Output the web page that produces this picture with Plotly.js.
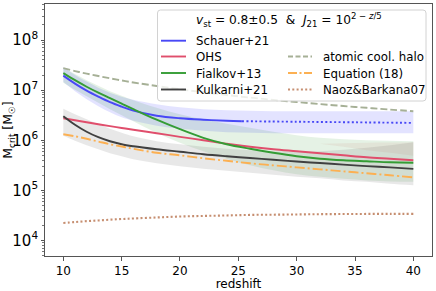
<!DOCTYPE html>
<html>
<head>
<meta charset="utf-8">
<script src="https://cdn.plot.ly/plotly-3.0.1.min.js"></script>
<style>html,body{margin:0;padding:0;background:#fff;}#plot{width:436px;height:291px;}</style>
</head>
<body>
<div id="plot"></div>
<script>
// ---- data ----
const redshift = [10,11,12,13,14,15,16,18,20,22,24,26,28,30,32,34,36,38,40];

const schauerZ = [10,11,12,13,14,15,16,18,20,22,24,25.3];
const schauer = [1.95e7,1.35e7,9.77e6,7.41e6,5.75e6,4.68e6,3.89e6,3.09e6,2.75e6,2.57e6,2.45e6,2.40e6];
const schauerExtZ = [25.3,30,35,40];
const schauerExt = [2.40e6,2.34e6,2.28e6,2.22e6];
const schauerHi = [2.88e7,2.00e7,1.48e7,1.12e7,8.91e6,7.41e6,6.46e6,5.25e6,4.57e6,4.17e6,3.98e6,3.89e6,3.80e6,3.80e6,3.80e6,3.80e6,3.80e6,3.80e6,3.80e6];
const schauerLo = [1.45e7,9.55e6,6.61e6,4.79e6,3.63e6,2.88e6,2.45e6,1.95e6,1.70e6,1.55e6,1.45e6,1.41e6,1.38e6,1.38e6,1.38e6,1.38e6,1.38e6,1.38e6,1.38e6];

const ohs = [2.75e6,2.51e6,2.29e6,2.09e6,1.91e6,1.76e6,1.62e6,1.38e6,1.17e6,1.00e6,8.51e5,7.41e5,6.61e5,6.03e5,5.50e5,5.01e5,4.57e5,4.27e5,3.98e5];
const ohsBandZ = [32,34,36,38,40];
const ohsHi = [8.51e5,8.71e5,8.91e5,9.02e5,9.12e5];
const ohsLo = [8.51e5,7.41e5,6.31e5,5.62e5,4.90e5];

const fialkov = [2.19e7,1.58e7,1.17e7,8.91e6,6.92e6,5.37e6,4.17e6,2.57e6,1.66e6,1.12e6,8.32e5,6.76e5,5.62e5,4.79e5,4.27e5,3.98e5,3.80e5,3.63e5,3.55e5];
const fialkovHi = [2.82e7,2.09e7,1.58e7,1.23e7,9.55e6,7.76e6,6.31e6,4.47e6,3.31e6,2.63e6,2.14e6,1.78e6,1.48e6,1.26e6,1.12e6,1.05e6,1.00e6,9.77e5,9.55e5];
const fialkovLo = [1.41e7,1.02e7,7.59e6,5.62e6,4.17e6,3.16e6,2.40e6,1.41e6,8.91e5,6.03e5,4.27e5,3.16e5,2.51e5,2.09e5,1.86e5,1.70e5,1.58e5,1.51e5,1.48e5];

const kulkarni = [3.02e6,2.04e6,1.48e6,1.15e6,9.55e5,8.32e5,7.59e5,6.61e5,5.89e5,5.25e5,4.79e5,4.42e5,4.07e5,3.76e5,3.51e5,3.27e5,3.05e5,2.88e5,2.69e5];
const kulkarniHi = [4.27e6,3.31e6,2.63e6,2.09e6,1.70e6,1.41e6,1.20e6,9.55e5,8.32e5,7.41e5,6.76e5,6.31e5,6.03e5,5.89e5,6.03e5,6.46e5,7.08e5,7.94e5,9.12e5];
const kulkarniLo = [1.23e6,9.77e5,7.94e5,6.61e5,5.50e5,4.79e5,4.17e5,3.47e5,3.02e5,2.69e5,2.45e5,2.24e5,2.04e5,1.86e5,1.74e5,1.58e5,1.48e5,1.35e5,1.26e5];

const atomicCool = [2.74e7,2.40e7,2.13e7,1.91e7,1.72e7,1.56e7,1.42e7,1.21e7,1.04e7,9.06e6,7.98e6,7.11e6,6.38e6,5.78e6,5.26e6,4.82e6,4.44e6,4.09e6,3.80e6];
const equation18 = [1.32e6,1.20e6,1.07e6,9.44e5,8.32e5,7.50e5,6.76e5,5.62e5,5.01e5,4.37e5,3.89e5,3.47e5,3.16e5,2.88e5,2.63e5,2.40e5,2.19e5,2.00e5,1.82e5];
const naozBarkana = [2.24e4,2.33e4,2.43e4,2.51e4,2.60e4,2.68e4,2.75e4,2.88e4,3.01e4,3.09e4,3.16e4,3.24e4,3.27e4,3.31e4,3.35e4,3.37e4,3.39e4,3.39e4,3.40e4];

const xTicks = [10,15,20,25,30,35,40];
const legendNames = ['Schauer+21','OHS','Fialkov+13','Kulkarni+21','atomic cool. halo','Equation (18)','Naoz&Barkana07'];

// ---- styles ----
const C = {
  blue:'rgb(72,72,246)', red:'rgb(224,78,108)', green:'rgb(52,156,52)', black:'rgb(64,64,64)',
  atomic:'rgb(166,176,150)', orange:'rgb(252,176,82)', brown:'rgb(198,142,112)'
};
const FONT = 'DejaVu Sans, Liberation Sans, sans-serif';
const FS = 12;
const FL = 11.8;

function band(x, lo, hi, fill){
  return [
    {x:x, y:lo, mode:'lines', line:{width:0, shape:'spline'}, hoverinfo:'skip', showlegend:false},
    {x:x, y:hi, mode:'lines', line:{width:0, shape:'spline'}, fill:'tonexty', fillcolor:fill, hoverinfo:'skip', showlegend:false}
  ];
}
function line(x, y, color, dash, w){
  return {x:x, y:y, mode:'lines', line:{color:color, width:w||1.9, dash:dash||'solid', shape:'spline'}, showlegend:false, hoverinfo:'skip'};
}

const traces = [].concat(
  band(redshift, schauerLo, schauerHi, 'rgba(0,0,255,0.11)'),
  band(redshift, fialkovLo, fialkovHi, 'rgba(0,128,0,0.10)'),
  band(redshift, kulkarniLo, kulkarniHi, 'rgba(128,128,128,0.18)'),
  band(ohsBandZ, ohsLo, ohsHi, 'rgba(180,60,40,0.07)'),
  [
    line(schauerZ, schauer, C.blue),
    line(schauerExtZ, schauerExt, C.blue, '2px,2.4px'),
    line(redshift, ohs, C.red),
    line(redshift, fialkov, C.green),
    line(redshift, kulkarni, C.black),
    line(redshift, atomicCool, C.atomic, '7px,3px'),
    line(redshift, equation18, C.orange, '10px,3px,2px,3px'),
    line(redshift, naozBarkana, C.brown, '2px,2.3px', 2.1)
  ]
);

// ---- legend drawn in paper coordinates ----
const PL = 45, PT = 4, PW = 387, PH = 252;
const px = v => (v - PL) / PW;
const py = v => (PT + PH - v) / PH;

const shapes = [];
const annotations = [];
(function(){
  const x0 = px(157.5), x1 = px(426), y0 = py(101), y1 = py(10);
  const rx = 3 / PW, ry = 3 / PH;
  const p = `M ${x0+rx},${y0} L ${x1-rx},${y0} Q ${x1},${y0} ${x1},${y0+ry} L ${x1},${y1-ry} Q ${x1},${y1} ${x1-rx},${y1} L ${x0+rx},${y1} Q ${x0},${y1} ${x0},${y1-ry} L ${x0},${y0+ry} Q ${x0},${y0} ${x0+rx},${y0} Z`;
  shapes.push({type:'path', xref:'paper', yref:'paper', path:p, fillcolor:'rgba(255,255,255,0.8)', line:{color:'rgb(210,210,210)', width:1}, layer:'above'});
})();
const legendItems = [
  {col:0,row:0,color:C.blue,dash:'solid'},
  {col:0,row:1,color:C.red,dash:'solid'},
  {col:0,row:2,color:C.green,dash:'solid'},
  {col:0,row:3,color:C.black,dash:'solid'},
  {col:1,row:1,color:C.atomic,dash:'5px,2.5px'},
  {col:1,row:2,color:C.orange,dash:'9px,2.5px,2px,2.5px'},
  {col:1,row:3,color:C.brown,dash:'2px,2.3px'}
];
const rowY = [40.7, 56.5, 73, 89.5];
const colX = [[161,186,194],[288,312,320.5]];
legendItems.forEach((it,i)=>{
  const cx = colX[it.col], yy = rowY[it.row];
  shapes.push({type:'line', xref:'paper', yref:'paper', x0:px(cx[0]), x1:px(cx[1]), y0:py(yy), y1:py(yy), line:{color:it.color, width:1.9, dash:it.dash}, layer:'above'});
  annotations.push({xref:'paper', yref:'paper', x:px(cx[2]), y:py(yy+0.5), xanchor:'left', yanchor:'middle', showarrow:false, text:legendNames[i], font:{family:FONT, size:FL, color:'#000'}});
});
annotations.push({xref:'paper', yref:'paper', x:px(289), y:py(20), xanchor:'center', yanchor:'middle', showarrow:false,
  text:'<i>v</i><sub>st</sub> = 0.8±0.5  &  <i>J</i><sub>21</sub> = 10<sup>2 − <i>z</i>/5</sup>', font:{family:FONT, size:12.2, color:'#000'}});

const layout = {
  width:436, height:291,
  margin:{l:PL, r:436-PL-PW, t:PT, b:291-PT-PH, pad:0},
  paper_bgcolor:'#fff', plot_bgcolor:'#fff',
  font:{family:FONT, size:FS, color:'#000'},
  showlegend:false,
  xaxis:{
    range:[8.43, 41.6], tickvals:xTicks, ticktext:xTicks.map(String),
    showgrid:false, zeroline:false, showline:true, mirror:true, linecolor:'#555', linewidth:1,
    ticks:'outside', ticklen:3.5, tickwidth:1, tickcolor:'#555',
    tickfont:{family:FONT, size:FS, color:'#000'},
    title:{text:'redshift', font:{family:FONT, size:FS, color:'#000'}, standoff:2}
  },
  yaxis:{
    type:'log', range:[3.6906, 8.7186], dtick:1, exponentformat:'power', showexponent:'all',
    showgrid:false, zeroline:false, showline:true, mirror:true, linecolor:'#555', linewidth:1,
    ticks:'outside', ticklen:3.5, tickwidth:1, tickcolor:'#555',
    minor:{ticks:'outside', ticklen:2, tickwidth:0.8, tickcolor:'#555', showgrid:false},
    tickfont:{family:FONT, size:FS, color:'#000'},
    title:{text:'M<sub>crit</sub> [M<sub>☉</sub>]', font:{family:FONT, size:12.5, color:'#000'}, standoff:3}
  },
  shapes:shapes, annotations:annotations
};

Plotly.newPlot('plot', traces, layout, {staticPlot:true, displayModeBar:false});
</script>
</body>
</html>
